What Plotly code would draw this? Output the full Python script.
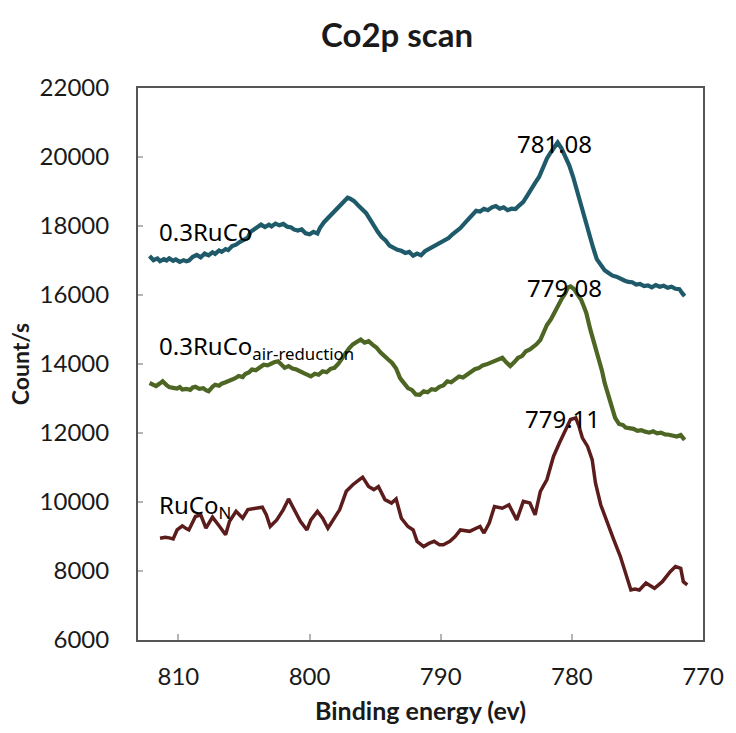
import plotly.graph_objects as go

# Co2p XPS spectra: binding energy (eV) and intensity (counts/s) per sample
ruco_energy = [
    812.2, 811.9, 811.6, 811.4, 811.1, 810.9, 810.7, 810.4, 810.2, 809.9, 809.6, 809.4, 809.2,
    808.9, 808.6, 808.3, 808.0, 807.7, 807.4, 807.2, 806.9, 806.7, 806.4, 806.2, 805.9, 805.6,
    805.3, 805.0, 804.7, 804.5, 804.2, 803.9, 803.7, 803.4, 803.1, 802.9, 802.6, 802.3, 802.0,
    801.7, 801.4, 801.2, 800.9, 800.6, 800.3, 800.0, 799.7, 799.4, 799.2, 798.9, 798.6, 798.3,
    798.0, 797.7, 797.4, 797.1, 796.9, 796.6, 796.3, 796.0, 795.7, 795.4, 795.1, 794.8, 794.5,
    794.2, 793.9, 793.6, 793.3, 793.0, 792.7, 792.4, 792.1, 791.8, 791.5, 791.2, 790.9, 790.6,
    790.3, 790.0, 789.7, 789.4, 789.1, 788.8, 788.5, 788.2, 787.9, 787.6, 787.3, 787.0, 786.7,
    786.4, 786.1, 785.8, 785.5, 785.2, 784.9, 784.6, 784.3, 784.0, 783.7, 783.4, 783.1, 782.8,
    782.5, 782.2, 781.9, 781.6, 781.3, 781.08, 780.8, 780.5, 780.2, 779.9, 779.6, 779.3, 779.0,
    778.7, 778.4, 778.1, 777.8, 777.5, 777.2, 776.9, 776.6, 776.3, 776.0, 775.7, 775.4, 775.1,
    774.8, 774.5, 774.2, 773.9, 773.6, 773.3, 773.0, 772.7, 772.4, 772.1, 771.8, 771.6, 771.4,
]
ruco_counts = [
    17130, 17010, 17060, 16980, 17040, 17000, 17060, 16990, 17030, 16960, 17010, 16980, 17000,
    17110, 17160, 17090, 17200, 17150, 17240, 17190, 17290, 17250, 17330, 17300, 17420, 17460,
    17540, 17600, 17660, 17830, 17900, 17980, 18040, 17970, 18040, 17990, 18070, 18020, 18060,
    17980, 17960, 17900, 17870, 17900, 17790, 17760, 17830, 17780, 17950, 18110, 18230, 18380,
    18470, 18600, 18700, 18820, 18790, 18720, 18600, 18470, 18380, 18200, 17990, 17830, 17680,
    17580, 17430, 17360, 17310, 17280, 17220, 17250, 17140, 17200, 17150, 17270, 17330, 17400,
    17450, 17520, 17570, 17650, 17760, 17850, 17940, 18070, 18180, 18310, 18440, 18420, 18500,
    18460, 18540, 18580, 18500, 18540, 18460, 18500, 18490, 18600, 18700, 18880, 19040, 19250,
    19420, 19690, 19960, 20140, 20330, 20420, 20260, 20040, 19760, 19420, 19010, 18560, 18150,
    17770, 17400, 17040, 16860, 16720, 16640, 16560, 16530, 16460, 16420, 16380, 16370, 16300,
    16320, 16260, 16280, 16220, 16290, 16240, 16270, 16210, 16240, 16180, 16170, 16060, 15970,
]

air_energy = [
    812.2, 811.9, 811.7, 811.4, 811.2, 810.9, 810.7, 810.4, 810.1, 809.9, 809.7, 809.4, 809.1,
    808.9, 808.7, 808.4, 808.1, 807.9, 807.7, 807.4, 807.2, 806.9, 806.7, 806.4, 806.2, 805.9,
    805.7, 805.4, 805.1, 804.9, 804.6, 804.4, 804.1, 803.8, 803.5, 803.2, 802.9, 802.7, 802.4,
    802.2, 801.9, 801.6, 801.3, 801.0, 800.7, 800.4, 800.1, 799.9, 799.6, 799.3, 799.0, 798.7,
    798.4, 798.1, 797.8, 797.5, 797.2, 797.0, 796.7, 796.4, 796.1, 795.8, 795.5, 795.2, 794.9,
    794.6, 794.3, 794.0, 793.7, 793.4, 793.1, 792.8, 792.5, 792.2, 791.9, 791.6, 791.3, 791.0,
    790.7, 790.4, 790.1, 789.8, 789.5, 789.2, 788.9, 788.6, 788.3, 788.0, 787.7, 787.4, 787.1,
    786.8, 786.5, 786.2, 785.9, 785.6, 785.3, 785.0, 784.7, 784.4, 784.1, 783.8, 783.5, 783.2,
    782.9, 782.7, 782.4, 782.2, 781.9, 781.6, 781.3, 781.0, 780.8, 780.5, 780.3, 780.1, 779.8,
    779.6, 779.3, 779.1, 778.9, 778.6, 778.3, 778.0, 777.7, 777.5, 777.2, 776.9, 776.7, 776.4,
    776.1, 775.9, 775.6, 775.3, 775.0, 774.7, 774.4, 774.1, 773.8, 773.5, 773.2, 772.9, 772.6,
    772.3, 772.0, 771.7, 771.5, 771.4,
]
air_counts = [
    13450, 13380, 13360, 13440, 13500, 13390, 13330, 13310, 13290, 13330, 13260, 13280, 13250,
    13320, 13340, 13280, 13300, 13240, 13210, 13340, 13400, 13370, 13430, 13470, 13500, 13540,
    13580, 13650, 13620, 13710, 13760, 13840, 13820, 13900, 13980, 13960, 14020, 14050, 14080,
    14010, 13890, 13940, 13870, 13840, 13800, 13730, 13680, 13640, 13720, 13690, 13790, 13760,
    13860, 13890, 14010, 14180, 14330, 14450, 14570, 14650, 14710, 14620, 14660, 14560, 14480,
    14340, 14250, 14130, 14030, 13870, 13590, 13450, 13300, 13250, 13120, 13110, 13210, 13180,
    13270, 13250, 13340, 13380, 13500, 13470, 13560, 13640, 13610, 13700, 13760, 13850, 13880,
    13960, 13990, 14040, 14080, 14120, 14180, 14050, 13940, 14050, 14180, 14230, 14370, 14420,
    14500, 14570, 14700, 14900, 15130, 15290, 15530, 15700, 15870, 16050, 16220, 16250, 16160,
    16030, 15870, 15680, 15480, 15010, 14640, 14250, 13800, 13450, 13050, 12700, 12440, 12260,
    12230, 12160, 12150, 12120, 12060, 12080, 12040, 12010, 12050, 11990, 12010, 11960, 11950,
    11930, 11900, 11940, 11830, 11800,
]

ncon_energy = [
    811.4, 811.0, 810.7, 810.4, 810.1, 809.7, 809.4, 809.2, 808.7, 808.3, 807.9, 807.4, 806.9,
    806.4, 806.1, 805.6, 805.1, 804.7, 804.1, 803.6, 803.3, 803.0, 802.5, 802.0, 801.6, 801.2,
    800.7, 800.2, 799.9, 799.4, 799.0, 798.6, 798.1, 797.7, 797.2, 796.7, 796.2, 795.95, 795.5,
    795.1, 794.75, 794.25, 793.75, 793.4, 793.0, 792.5, 792.1, 791.8, 791.3, 790.9, 790.5,
    790.1, 789.8, 789.3, 788.9, 788.5, 787.8, 787.0, 786.7, 786.3, 785.9, 785.3, 784.8, 784.2,
    783.7, 783.2, 782.8, 782.4, 781.9, 781.4, 780.95, 780.45, 780.1, 779.7, 779.45, 779.2,
    778.8, 778.45, 778.2, 777.8, 777.3, 776.8, 776.3, 775.8, 775.5, 775.2, 774.85, 774.35,
    773.7, 773.1, 772.5, 772.1, 771.7, 771.5, 771.2,
]
ncon_counts = [
    8950, 8980, 8960, 8930, 9190, 9310, 9230, 9190, 9580, 9630, 9240, 9560, 9310,
    9050, 9440, 9730, 9530, 9780, 9820, 9850, 9630, 9290, 9480, 9780, 10090, 9820,
    9440, 9190, 9480, 9730, 9530, 9240, 9530, 9780, 10310, 10500, 10650, 10720, 10450,
    10360, 10450, 10070, 9970, 10090, 9530, 9290, 9190, 8860, 8710, 8800, 8860,
    8760, 8760, 8860, 9000, 9190, 9150, 9290, 9100, 9390, 9870, 9820, 9920, 9480,
    10020, 9970, 9630, 10310, 10650, 11320, 11710, 12100, 12390, 12440, 12190, 11860,
    11610, 11230, 10550, 9920, 9390, 8900, 8420, 7840, 7450, 7480, 7450, 7650,
    7500, 7690, 7980, 8130, 8080, 7690, 7600,
]

sample_names = ["0.3RuCo", "0.3RuCo<sub>air-reduction</sub>", "RuCo<sub>N</sub>"]
peak_labels = ["781.08", "779.08", "779.11"]
y_ticks = [6000, 8000, 10000, 12000, 14000, 16000, 18000, 20000, 22000]
x_ticks = [810, 800, 790, 780, 770]

series = [
    (ruco_energy, ruco_counts, "#1e5a69", 4.2),
    (air_energy, air_counts, "#4d6623", 4.2),
    (ncon_energy, ncon_counts, "#5c1c1c", 3.5),
]

fig = go.Figure()
for (e, c, color, w), name in zip(series, sample_names):
    fig.add_trace(go.Scatter(x=e, y=c, mode="lines", name=name,
                             line=dict(color=color, width=w),
                             showlegend=False, hoverinfo="skip"))

label_font = dict(family="Noto Sans", size=24, color="#000000")

# sample names, placed left of each spectrum
name_pos = [(811.6, 17850), (811.6, 14480), (811.6, 9880)]
for (x, y), name in zip(name_pos, sample_names):
    fig.add_annotation(x=x, y=y, text=name, showarrow=False, xanchor="left",
                       yanchor="middle", font=label_font)

# peak binding energies written at the maxima
peak_shift = [-3, -6, -13]
for (e, c, _, _), lab, dx in zip(series, peak_labels, peak_shift):
    i = max(range(len(c)), key=lambda k: c[k])
    fig.add_annotation(x=e[i], y=c[i], text=lab, showarrow=False, xanchor="center",
                       yanchor="middle", xshift=dx, yshift=-1, font=label_font)

tick_font = dict(family="Lato", size=24, color="#1a1a1a")

fig.update_layout(
    width=736, height=733,
    margin=dict(l=138, r=21, t=88, b=93),
    paper_bgcolor="white", plot_bgcolor="white",
    title=dict(text="Co2p scan", x=397 / 736, xanchor="center", xref="container",
               y=1 - 35 / 733, yanchor="middle", yref="container",
               font=dict(family="Lato", size=33, color="#1a1a1a", weight="bold")),
    xaxis=dict(range=[813.08, 770], tickvals=x_ticks, ticktext=[str(v) for v in x_ticks],
               ticks="inside", ticklen=6, tickwidth=2, tickcolor="#b5b5b5",
               showline=True, linecolor="#555555", linewidth=2, mirror=True,
               showgrid=False, zeroline=False, tickfont=tick_font, ticklabelstandoff=14,
               title=dict(text="Binding energy (ev)",
                          font=dict(family="Lato", size=25, color="#1a1a1a", weight="bold"),
                          standoff=14)),
    yaxis=dict(range=[6000, 22000], tickvals=y_ticks, ticktext=[str(v) for v in y_ticks],
               ticks="inside", ticklen=5, tickwidth=2, tickcolor="#b5b5b5",
               showline=True, linecolor="#555555", linewidth=2, mirror=True,
               showgrid=False, zeroline=False, tickfont=tick_font, ticklabelstandoff=22,
               title=dict(text="Count/s",
                          font=dict(family="Lato", size=23, color="#1a1a1a", weight="bold"),
                          standoff=4)),
)

fig.write_html("out.html")
